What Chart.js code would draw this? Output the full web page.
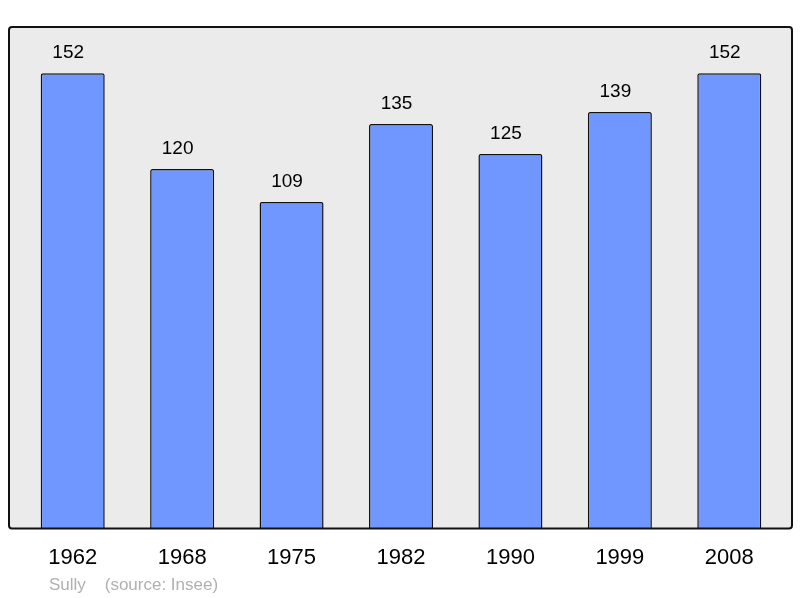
<!DOCTYPE html>
<html><head><meta charset="utf-8">
<script src="https://cdn.jsdelivr.net/npm/chart.js@4/dist/chart.umd.min.js"></script>
<style>html,body{margin:0;padding:0;background:#fff}#w{width:800px;height:598px}</style>
</head><body><div id="w"><canvas id="c" width="800" height="598"></canvas></div>
<script>
const years = ["1962","1968","1975","1982","1990","1999","2008"];
const population = [152,120,109,135,125,139,152];
const sourceText = "Sully    (source: Insee)";

const boxPlugin = {
  id: 'box',
  beforeDraw(chart) {
    const ctx = chart.ctx, a = chart.chartArea;
    const x0 = 9, x1 = 792, y0 = a.top, y1 = a.bottom;
    ctx.save();
    ctx.beginPath();
    ctx.roundRect(x0, y0, x1 - x0, y1 - y0, 3);
    ctx.fillStyle = '#ebebeb';
    ctx.fill();
    ctx.restore();
  },
  afterDatasetsDraw(chart) {
    const ctx = chart.ctx, a = chart.chartArea;
    const x0 = 9, x1 = 792, y0 = a.top, y1 = a.bottom;
    ctx.save();
    ctx.beginPath();
    ctx.roundRect(x0, y0, x1 - x0, y1 - y0, 3);
    ctx.lineWidth = 2;
    ctx.strokeStyle = '#111';
    ctx.stroke();
    ctx.fillStyle = '#000';
    ctx.font = '19px "Liberation Sans", Arial, sans-serif';
    ctx.textAlign = 'center';
    ctx.textBaseline = 'alphabetic';
    const meta = chart.getDatasetMeta(0);
    meta.data.forEach((bar, i) => {
      ctx.fillText(String(population[i]), bar.x - 4.5, bar.y - 15);
    });
    ctx.fillStyle = '#b0b0b0';
    ctx.font = '17px "Liberation Sans", Arial, sans-serif';
    ctx.textAlign = 'left';
    ctx.textBaseline = 'middle';
    ctx.fillText(sourceText, 49, 585);
    ctx.restore();
  }
};

new Chart(document.getElementById('c'), {
  type: 'bar',
  data: {
    labels: years,
    datasets: [{
      data: population,
      backgroundColor: '#7097ff',
      borderColor: '#111',
      borderWidth: 1.5,
      borderRadius: 2,
      borderSkipped: 'bottom',
      barPercentage: 0.585,
      categoryPercentage: 1
    }]
  },
  options: {
    responsive: false,
    animation: false,
    devicePixelRatio: 1,
    layout: { padding: { left: 18, right: 16, top: 27, bottom: 11 } },
    plugins: { legend: { display: false }, tooltip: { enabled: false }, title: { display: false } },
    scales: {
      x: {
        grid: { display: false, drawTicks: false },
        border: { display: false },
        ticks: { color: '#000', padding: 16, font: { family: '"Liberation Sans", Arial, sans-serif', size: 22 } }
      },
      y: { display: false, min: 0, max: 167.4 }
    }
  },
  plugins: [boxPlugin]
});
</script>
</body></html>
